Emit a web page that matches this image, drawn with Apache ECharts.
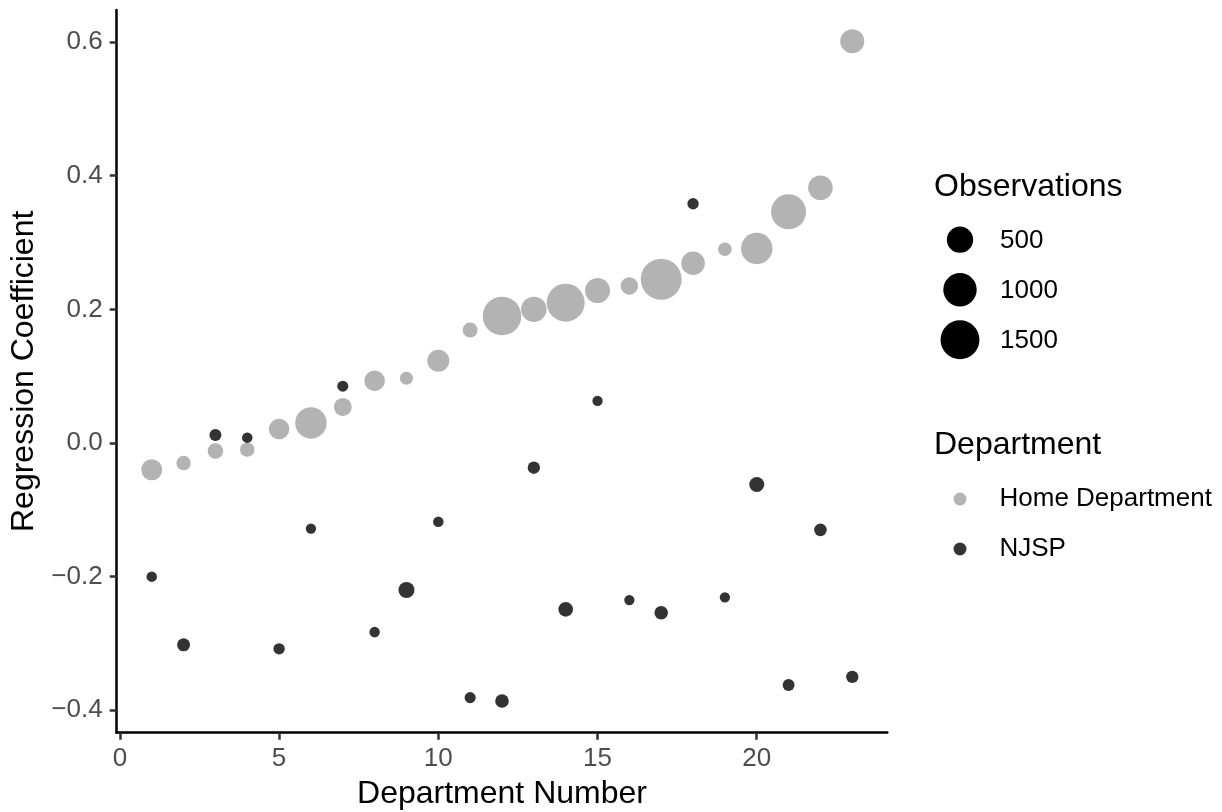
<!DOCTYPE html>
<html>
<head>
<meta charset="utf-8">
<script src="https://cdn.jsdelivr.net/npm/echarts@6/dist/echarts.min.js"></script>
<style>
html,body{margin:0;padding:0;background:#ffffff;}
#chart{width:1222px;height:812px;}
</style>
</head>
<body>
<div id="chart"></div>
<script>
// ---- data ----
const departments = [1,2,3,4,5,6,7,8,9,10,11,12,13,14,15,16,17,18,19,20,21,22,23];
const homeCoef = [-0.040,-0.030,-0.012,-0.010,0.021,0.030,0.054,0.093,0.097,0.123,0.169,0.190,0.200,0.210,0.228,0.235,0.245,0.269,0.290,0.291,0.346,0.382,0.601];
const homeObs  = [237,46,70,46,221,840,132,221,25,279,57,1473,447,1414,425,115,1723,353,33,840,1134,404,373];
const njspCoef = [-0.200,-0.302,0.012,0.008,-0.308,-0.128,0.085,-0.283,-0.220,-0.118,-0.381,-0.386,-0.037,-0.249,0.063,-0.235,-0.254,0.358,-0.231,-0.062,-0.362,-0.130,-0.350];
const njspObs  = [3,25,13,3,8,2,6,3,79,3,6,33,17,50,2,2,33,8,2,57,13,20,17];
const xTicks = [0,5,10,15,20];
const yTicks = [-0.4,-0.2,0,0.2,0.4,0.6];
const sizeBreaks = [500,1000,1500];
const seriesNames = ['Home Department','NJSP'];

// ---- styling ----
const FONT = '"Liberation Sans", Arial, Helvetica, sans-serif';
const COLORS = ['#B3B3B3','#333333'];
function radius(obs){ return 4.6 + 0.383 * Math.sqrt(obs); }
function fmtY(v){ const s = (Math.round(v*10)/10).toFixed(1); return s.replace('-', '\u2212'); }

const homeData = departments.map((d,i)=>[d, homeCoef[i], homeObs[i]]);
const njspData = departments.map((d,i)=>[d, njspCoef[i], njspObs[i]]);

const chart = echarts.init(document.getElementById('chart'), null, {renderer:'canvas'});

// size legend ("Observations") drawn from the same radius() mapping
const graphics = [];
graphics.push({type:'text', x:934, y:187, style:{text:'Observations', font:'32px '+FONT, fill:'#000', textVerticalAlign:'middle', textAlign:'left'}});
sizeBreaks.forEach((b,i)=>{
  const cy = 239.7 + 50*i;
  graphics.push({type:'circle', shape:{cx:960, cy:cy, r:radius(b)}, style:{fill:'#000'}});
  graphics.push({type:'text', x:1000, y:cy+1.5, style:{text:String(b), font:'26px '+FONT, fill:'#000', textVerticalAlign:'middle', textAlign:'left'}});
});
graphics.push({type:'text', x:934, y:444.8, style:{text:'Department', font:'32px '+FONT, fill:'#000', textVerticalAlign:'middle', textAlign:'left'}});

const option = {
  animation:false,
  backgroundColor:'#ffffff',
  textStyle:{fontFamily:FONT},
  grid:{left:116.7, top:10, width:770.6, height:722.7, containLabel:false, outerBoundsMode:'none'},
  xAxis:{
    type:'value', min:-0.1, max:24.1,
    name:'Department Number', nameLocation:'middle', nameGap:45,
    nameTextStyle:{fontSize:32, color:'#000', fontFamily:FONT},
    axisLine:{show:true, onZero:false, lineStyle:{color:'#000', width:2.5}},
    axisTick:{show:true, length:7, lineStyle:{color:'#333', width:2.5}, customValues:xTicks},
    axisLabel:{fontSize:26, color:'#4D4D4D', margin:13, fontFamily:FONT, customValues:xTicks, formatter:(v)=>String(v)},
    splitLine:{show:false}
  },
  yAxis:{
    type:'value', min:-0.4335, max:0.6479,
    name:'Regression Coefficient', nameLocation:'middle', nameGap:74, nameRotate:90,
    nameTextStyle:{fontSize:32, color:'#000', fontFamily:FONT},
    axisLine:{show:true, onZero:false, lineStyle:{color:'#000', width:2.5}},
    axisTick:{show:true, length:7, lineStyle:{color:'#333', width:2.5}, customValues:yTicks},
    axisLabel:{fontSize:26, color:'#4D4D4D', margin:14, fontFamily:FONT, customValues:yTicks, formatter:fmtY},
    splitLine:{show:false}
  },
  legend:{
    orient:'vertical', left:948.5, top:481, padding:5,
    itemWidth:13, itemHeight:13, itemGap:24, icon:'circle',
    selectedMode:false,
    textStyle:{fontSize:26, color:'#000', fontFamily:FONT, padding:[0,0,0,28]},
    data:seriesNames
  },
  graphic:{elements:graphics},
  series:[
    {name:seriesNames[0], type:'scatter', data:homeData, symbol:'circle',
     symbolSize:(v)=>2*radius(v[2]), itemStyle:{color:COLORS[0], opacity:1}, emphasis:{disabled:true}, z:2},
    {name:seriesNames[1], type:'scatter', data:njspData, symbol:'circle',
     symbolSize:(v)=>2*radius(v[2]), itemStyle:{color:COLORS[1], opacity:1}, emphasis:{disabled:true}, z:3}
  ]
};
chart.setOption(option);
</script>
</body>
</html>
